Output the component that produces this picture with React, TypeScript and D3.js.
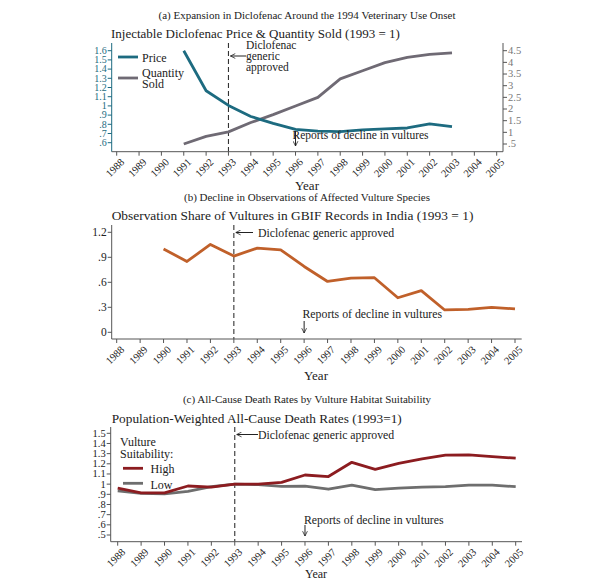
import React, { useEffect, useRef } from 'react';
import * as d3 from 'd3';

// panel (a)
const priceYears = [1991, 1992, 1993, 1994, 1995, 1996, 1997, 1998, 1999, 2000, 2001, 2002, 2003];
const priceValues = [1.6, 1.165, 1.005, 0.885, 0.81, 0.745, 0.725, 0.72, 0.74, 0.75, 0.76, 0.805, 0.775];
const quantityValues = [0.5, 0.83, 1.02, 1.42, 1.76, 2.13, 2.5, 3.29, 3.64, 3.99, 4.21, 4.34, 4.41];
const priceTicks = [0.6, 0.7, 0.8, 0.9, 1, 1.1, 1.2, 1.3, 1.4, 1.5, 1.6];
const quantityTicks = [0.5, 1, 1.5, 2, 2.5, 3, 3.5, 4, 4.5];

// panel (b)
const vultureYears = [1990, 1991, 1992, 1993, 1994, 1995, 1996, 1997, 1998, 1999, 2000, 2001, 2002, 2003, 2004, 2005];
const vultureValues = [1.0, 0.85, 1.055, 0.915, 1.01, 0.99, 0.79, 0.61, 0.65, 0.655, 0.415, 0.5, 0.268, 0.275, 0.3, 0.28];
const vultureTicks = [0, 0.3, 0.6, 0.9, 1.2];

// panel (c)
const deathYears = [1988, 1989, 1990, 1991, 1992, 1993, 1994, 1995, 1996, 1997, 1998, 1999, 2000, 2001, 2002, 2003, 2004, 2005];
const highValues = [0.96, 0.915, 0.915, 0.982, 0.97, 1.0, 1.0, 1.018, 1.09, 1.075, 1.215, 1.146, 1.205, 1.248, 1.285, 1.287, 1.27, 1.255];
const lowValues = [0.933, 0.91, 0.905, 0.93, 0.975, 1.0, 0.995, 0.978, 0.98, 0.95, 0.99, 0.946, 0.96, 0.97, 0.975, 0.99, 0.99, 0.975];
const deathTicks = [0.5, 0.6, 0.7, 0.8, 0.9, 1, 1.1, 1.2, 1.3, 1.4, 1.5];

const allYears = d3.range(1988, 2006);

const FONT = '"Liberation Serif", "DejaVu Serif", serif';
const TEAL = '#1d6b80';
const PURPLE_GRAY = '#6f6a74';
const ORANGE = '#c0602a';
const DARK_RED = '#8c1c20';
const GRAY = '#6e6e6e';
const AXIS = '#555';

const fmt = (v: number) => {
  const s = d3.format('~g')(+v.toFixed(2));
  return s.replace(/^0\./, '.');
};

export default function App() {
  const svgRef = useRef<SVGSVGElement>(null);

  useEffect(() => {
    if (!svgRef.current) return;
    const svg = d3.select(svgRef.current);
    svg.selectAll('*').remove();

    svg.append('rect').attr('width', 616).attr('height', 581).attr('fill', '#fff');

    const txt = (x: number, y: number, s: string, size: number, anchor = 'start', color = '#222') =>
      svg
        .append('text')
        .attr('x', x)
        .attr('y', y)
        .attr('text-anchor', anchor)
        .style('font-family', FONT)
        .style('font-size', `${size}px`)
        .style('fill', color)
        .text(s);

    const yearAxis = (x: d3.ScaleLinear<number, number>, yBase: number, left: number, right: number) => {
      svg.append('line').attr('x1', left).attr('x2', right).attr('y1', yBase).attr('y2', yBase).attr('stroke', AXIS).attr('stroke-width', 1);
      allYears.forEach((yr) => {
        svg.append('line').attr('x1', x(yr)).attr('x2', x(yr)).attr('y1', yBase).attr('y2', yBase + 4).attr('stroke', AXIS);
        svg
          .append('text')
          .attr('transform', `translate(${x(yr) + 3},${yBase + 6}) rotate(-45)`)
          .attr('text-anchor', 'end')
          .attr('dy', '0.7em')
          .style('font-family', FONT)
          .style('font-size', '10.5px')
          .style('fill', '#222')
          .text(yr);
      });
    };

    const leftAxis = (y: d3.ScaleLinear<number, number>, ticks: number[], xPos: number, top: number, bottom: number, color: string, size = 11) => {
      const stroke = color === TEAL ? TEAL : AXIS;
      svg.append('line').attr('x1', xPos).attr('x2', xPos).attr('y1', top).attr('y2', bottom).attr('stroke', stroke);
      ticks.forEach((t) => {
        svg.append('line').attr('x1', xPos - 4).attr('x2', xPos).attr('y1', y(t)).attr('y2', y(t)).attr('stroke', stroke);
        txt(xPos - 5, y(t), fmt(t), size, 'end', color).attr('dy', '0.33em');
      });
    };

    const arrowDefs = svg.append('defs');
    arrowDefs
      .append('marker')
      .attr('id', 'arr')
      .attr('viewBox', '0 0 10 10')
      .attr('refX', 9)
      .attr('refY', 5)
      .attr('markerWidth', 6)
      .attr('markerHeight', 6)
      .attr('orient', 'auto')
      .append('path')
      .attr('d', 'M1,1 L9,5 L1,9')
      .attr('fill', 'none')
      .attr('stroke', '#222')
      .attr('stroke-width', 1.3);

    const arrow = (x1: number, y1: number, x2: number, y2: number) =>
      svg.append('line').attr('x1', x1).attr('y1', y1).attr('x2', x2).attr('y2', y2).attr('stroke', '#222').attr('stroke-width', 1).attr('marker-end', 'url(#arr)');

    const dashed = (xPos: number, top: number, bottom: number) =>
      svg.append('line').attr('x1', xPos).attr('x2', xPos).attr('y1', top).attr('y2', bottom).attr('stroke', '#333').attr('stroke-width', 1.1).attr('stroke-dasharray', '5,3');

    const path = (xs: number[], ys: number[], x: any, y: any, color: string, w = 2.8) =>
      svg
        .append('path')
        .datum(xs.map((d, i) => [d, ys[i]] as [number, number]))
        .attr('fill', 'none')
        .attr('stroke', color)
        .attr('stroke-width', w)
        .attr('stroke-linejoin', 'round')
        .attr('d', d3.line<[number, number]>().x((d) => x(d[0])).y((d) => y(d[1])));

    // ---------- Panel (a)
    txt(307, 18.5, '(a) Expansion in Diclofenac Around the 1994 Veterinary Use Onset', 11, 'middle');
    txt(111, 37.5, 'Injectable Diclofenac Price & Quantity Sold (1993 = 1)', 13);
    const xa = d3.scaleLinear().domain([1988, 2005]).range([116.7, 496.7]);
    const yaL = d3.scaleLinear().domain([0.6, 1.6]).range([142.7, 50.7]);
    const yaR = d3.scaleLinear().domain([0.5, 4.5]).range([144, 50.7]);
    dashed(xa(1993), 43, 151.7);
    leftAxis(yaL, priceTicks, 111.7, 43, 151.7, TEAL, 10);
    svg.append('line').attr('x1', 503).attr('x2', 503).attr('y1', 43).attr('y2', 151.7).attr('stroke', AXIS);
    quantityTicks.forEach((t) => {
      svg.append('line').attr('x1', 503).attr('x2', 507).attr('y1', yaR(t)).attr('y2', yaR(t)).attr('stroke', AXIS);
      txt(508, yaR(t), fmt(t), 10.5, 'start', '#777').attr('dy', '0.33em');
    });
    yearAxis(xa, 151.7, 111.7, 503);
    path(priceYears, quantityValues, xa, yaR, PURPLE_GRAY);
    path(priceYears, priceValues, xa, yaL, TEAL);
    // legend
    svg.append('line').attr('x1', 118).attr('x2', 138).attr('y1', 57).attr('y2', 57).attr('stroke', TEAL).attr('stroke-width', 2.8);
    txt(142, 61.5, 'Price', 12);
    svg.append('line').attr('x1', 118).attr('x2', 138).attr('y1', 78).attr('y2', 78).attr('stroke', PURPLE_GRAY).attr('stroke-width', 2.8);
    txt(142, 76.5, 'Quantity', 12);
    txt(142, 87.5, 'Sold', 12);
    // annotations
    txt(246, 49, 'Diclofenac', 11.5);
    txt(246, 60, 'generic', 11.5);
    txt(246, 71, 'approved', 11.5);
    arrow(246, 56, xa(1993) + 2, 56);
    txt(xa(1996) - 3, 139, 'Reports of decline in vultures', 11.5);
    arrow(xa(1996), 131, xa(1996), 146);
    txt(307, 189.5, 'Year', 13, 'middle');

    // ---------- Panel (b)
    txt(307, 200.5, '(b) Decline in Observations of Affected Vulture Species', 11, 'middle');
    txt(111.7, 219.5, 'Observation Share of Vultures in GBIF Records in India (1993 = 1)', 13.4);
    const xb = d3.scaleLinear().domain([1988, 2005]).range([116.7, 515]);
    const yb = d3.scaleLinear().domain([0, 1.2]).range([332.3, 232.3]);
    dashed(xb(1993), 225, 339);
    leftAxis(yb, vultureTicks, 111.7, 225, 339, '#222', 11.5);
    yearAxis(xb, 339, 111.7, 521.7);
    path(vultureYears, vultureValues, xb, yb, ORANGE, 2.8);
    arrow(253, 232.5, xb(1993) + 2, 232.5);
    txt(258, 236.5, 'Diclofenac generic approved', 11.8);
    txt(302.5, 318, 'Reports of decline in vultures', 11.8);
    arrow(xb(1996), 321, xb(1996), 333);
    txt(316, 379.5, 'Year', 13, 'middle');

    // ---------- Panel (c)
    txt(307, 403, '(c) All-Cause Death Rates by Vulture Habitat Suitability', 11, 'middle');
    txt(111.7, 422.5, 'Population-Weighted All-Cause Death Rates (1993=1)', 13.3);
    const xc = d3.scaleLinear().domain([1988, 2005]).range([117.7, 515.7]);
    const yc = d3.scaleLinear().domain([0.5, 1.5]).range([535, 433.3]);
    dashed(xc(1993), 427, 541.7);
    leftAxis(yc, deathTicks, 110.7, 427, 541.7, '#222', 10.5);
    yearAxis(xc, 541.7, 110.7, 522);
    path(deathYears, lowValues, xc, yc, GRAY, 2.8);
    path(deathYears, highValues, xc, yc, DARK_RED, 2.8);
    // legend
    txt(120, 446, 'Vulture', 12);
    txt(120, 457.5, 'Suitability:', 12);
    svg.append('line').attr('x1', 123).attr('x2', 143).attr('y1', 468.3).attr('y2', 468.3).attr('stroke', DARK_RED).attr('stroke-width', 2.8);
    txt(150.5, 473, 'High', 12);
    txt(150.5, 488.5, 'Low', 12);
    svg.append('line').attr('x1', 123).attr('x2', 143).attr('y1', 483.3).attr('y2', 483.3).attr('stroke', GRAY).attr('stroke-width', 2.8);
    arrow(258, 434.5, xc(1993) + 2, 434.5);
    txt(258, 438.5, 'Diclofenac generic approved', 11.8);
    txt(304, 523.5, 'Reports of decline in vultures', 11.8);
    arrow(xc(1996), 525, xc(1996), 536);
    txt(316, 578, 'Year', 12, 'middle');
  }, []);

  return (
    <svg
      ref={svgRef}
      width={616}
      height={581}
      style={{ position: 'absolute', left: 0, top: 0, display: 'block' }}
    ></svg>
  );
}
